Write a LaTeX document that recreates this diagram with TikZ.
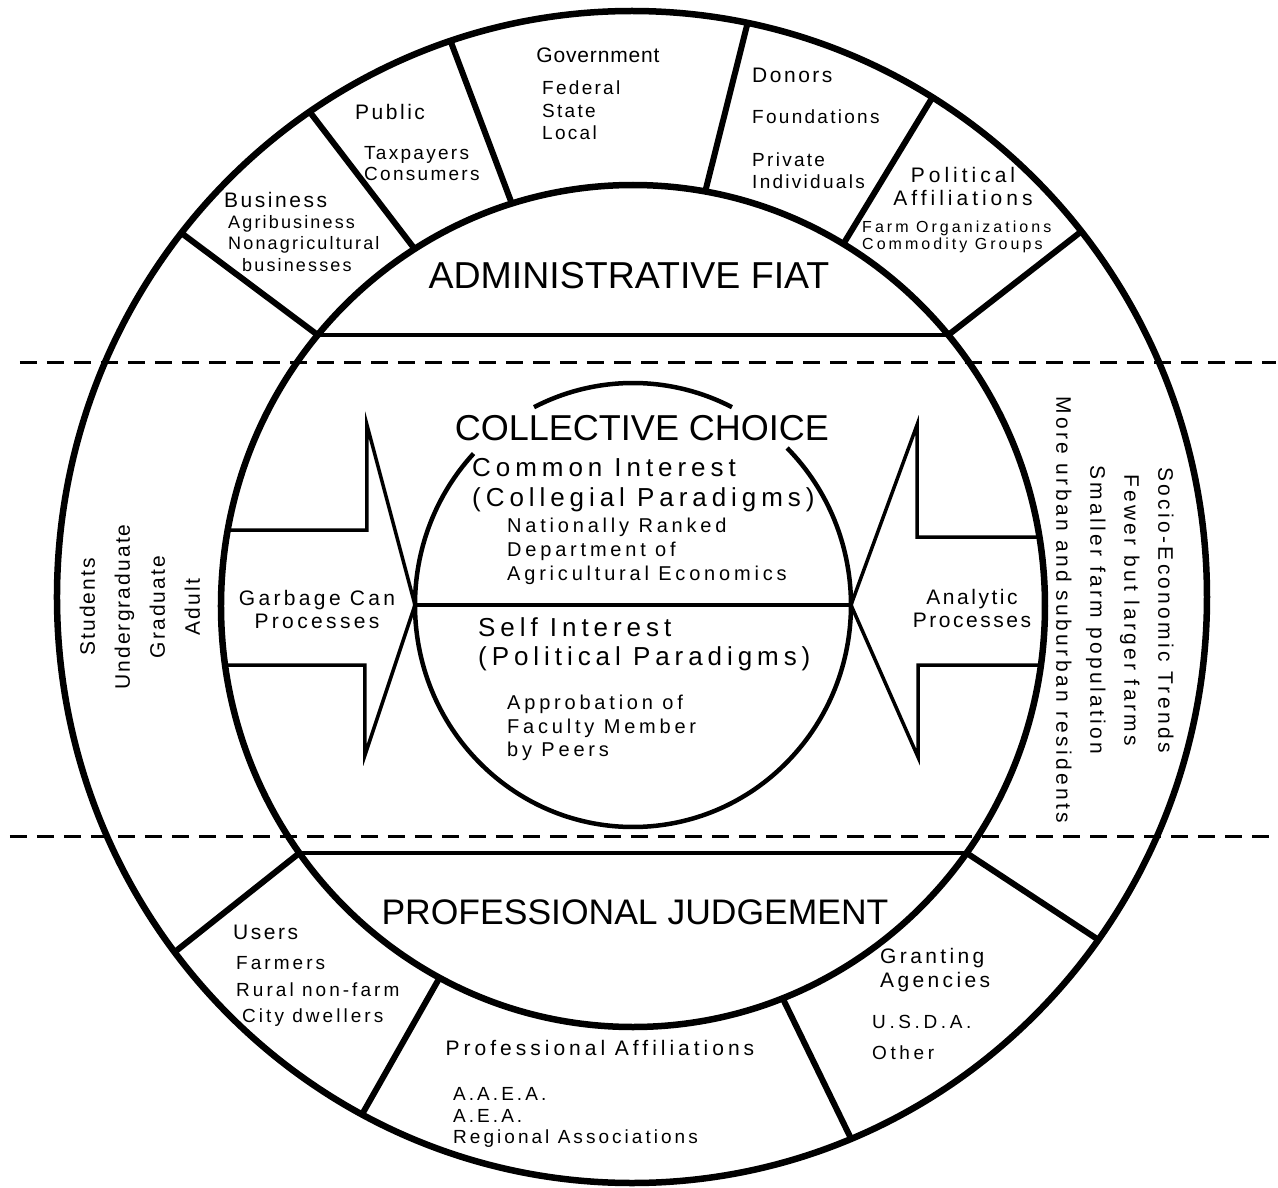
\documentclass[tikz,border=0pt]{standalone}
\usepackage{fontspec}
\usepackage{tikz}
\usetikzlibrary{calc}
\newfontfamily\plotfont[LetterSpace=12]{Liberation Sans}
\newfontfamily\midplotfont[LetterSpace=16]{Liberation Sans}
\newfontfamily\wideplotfont[LetterSpace=19]{Liberation Sans}
\newfontfamily\capfont{Liberation Sans}
\newcommand\lsp[1]{\addfontfeature{LetterSpace=#1}}
\tikzstyle{ring} = [line width=6.5pt]
\tikzstyle{spoke} = [line width=6pt]
\tikzstyle{chord} = [line width=4.5pt]
\tikzstyle{arrowline} = [line width=3.5pt, line join=miter]
\tikzstyle{divider} = [line width=3pt, dash pattern=on 17pt off 10pt]
\tikzstyle{title} = [font=\capfont\fontsize{36}{40}\selectfont, inner sep=0pt]
\tikzstyle{head} = [font=\plotfont\fontsize{21}{24}\selectfont, inner sep=0pt, align=left]
\tikzstyle{sub} = [font=\plotfont\fontsize{19}{22}\selectfont, inner sep=0pt, align=left]
\tikzstyle{mid} = [font=\wideplotfont\fontsize{26}{30}\selectfont, inner sep=0pt, align=left]

\begin{document}
\begin{tikzpicture}[x=1pt, y=1pt]
    \fill[white] (-633,-581) rectangle (645,606);
    \useasboundingbox (-633,-581) rectangle (645,606);

    % Centres and tips
    \coordinate (ic) at (0,0);
    \coordinate (oc) at (-1,9);
    \coordinate (cc) at (0,1);
    \coordinate (gtip) at (-218,1);
    \coordinate (atip) at (218,1);

    % Rings
    \draw[ring] (oc) ellipse [x radius=575, y radius=586];
    \draw[ring] (ic) ellipse [x radius=412, y radius=421];

    % Chords under the two titles
    \draw[chord] (139.93:412 and 421) -- (40.07:412 and 421);
    \draw[chord] (215.93:412 and 421) -- (324.07:412 and 421);

    % Spokes of the outer ring
    \draw[spoke] ($(oc)+(141.6:575 and 586)$) -- (139.93:412 and 421);
    \draw[spoke] ($(oc)+(124.1:575 and 586)$) -- (122:412 and 421);
    \draw[spoke] ($(oc)+(108.4:575 and 586)$) -- (107.1:412 and 421);
    \draw[spoke] ($(oc)+(78.4:575 and 586)$) -- (79.9:412 and 421);
    \draw[spoke] ($(oc)+(58.5:575 and 586)$) -- (59.3:412 and 421);
    \draw[spoke] ($(oc)+(38.6:575 and 586)$) -- (40.07:412 and 421);
    \draw[spoke] ($(oc)+(217.3:575 and 586)$) -- (215.93:412 and 421);
    \draw[spoke] ($(oc)+(242:575 and 586)$) -- (242:412 and 421);
    \draw[spoke] ($(oc)+(292.4:575 and 586)$) -- (291.3:412 and 421);
    \draw[spoke] ($(oc)+(324.2:575 and 586)$) -- (324.07:412 and 421);

    % Dashed dividers
    \draw[divider] (-613,244) -- (643,244);
    \draw[divider] (-623,-230) -- (643,-230);

    % Inner circle, broken round the heading
    \draw[chord] ($(cc)+(63:218 and 222)$) arc [start angle=63, end angle=117, x radius=218, y radius=222];
    \draw[chord] ($(cc)+(137:218 and 222)$) arc [start angle=137, end angle=405, x radius=218, y radius=222];
    \draw[arrowline] (gtip) -- (atip);

    % Arrows
    \draw[arrowline] (-405.2,76) -- (-266,76) -- (-266,181) -- (gtip) -- (-268,-149) -- (-268,-59) -- (-407.9,-59);
    \draw[arrowline] (406.4,69) -- (284,69) -- (284,181) -- (atip) -- (285,-151) -- (285,-59) -- (407.9,-59);

    % Nodes
    \node[head, font=\plotfont\lsp{4}\fontsize{21}{24}\selectfont] (govt) at (-35,551) {Government};
    \node[sub, anchor=west, font=\plotfont\fontsize{19}{22.5}\selectfont] (govtlist) at (-91,495.5) {Federal\\State\\Local};
    \node[head, anchor=west] (public) at (-278,494) {Public};
    \node[sub, anchor=west, font=\plotfont\fontsize{19}{21}\selectfont] (publiclist) at (-269,442.5) {Taxpayers\\Consumers};
    \node[head, anchor=west] (business) at (-409,406) {Business};
    \node[sub, anchor=west, font=\plotfont\fontsize{18}{21.5}\selectfont] (businesslist) at (-405,362.5) {Agribusiness\\Nonagricultural\\\hspace{14pt}businesses};
    \node[head, anchor=west] (donors) at (119,531) {Donors};
    \node[sub, anchor=west] (donorlist) at (119,456.5) {Foundations\\[21pt]Private\\Individuals};
    \node[head, align=center, font=\wideplotfont\fontsize{21}{23}\selectfont] (political) at (330,419.5) {Political\\Affiliations};
    \node[sub, anchor=west, font=\wideplotfont\fontsize{16}{17}\selectfont] (politicallist) at (229,369.5) {Farm Organizations\\Commodity Groups};
    \node[title, font=\capfont\fontsize{37.5}{40}\selectfont] (admin) at (-4,330) {ADMINISTRATIVE FIAT};

    \node[title] (collective) at (9,178) {COLLECTIVE CHOICE};
    \node[mid, anchor=west] (common) at (-161,121) {Common Interest\\(Collegial Paradigms)};
    \node[sub, anchor=west, font=\wideplotfont\fontsize{20}{24}\selectfont] (commonlist) at (-126,55) {Nationally Ranked\\Department of\\Agricultural Economics};
    \node[mid, anchor=west, font=\wideplotfont\fontsize{26}{29}\selectfont] (self) at (-155,-38.5) {Self Interest\\(Political Paradigms)};
    \node[sub, anchor=west, font=\wideplotfont\fontsize{20}{23.5}\selectfont] (selflist) at (-126,-122) {Approbation of\\Faculty Member\\by Peers};
    \node[head, align=center, font=\midplotfont\fontsize{21}{23}\selectfont] (garbage) at (-316,-3) {Garbage Can\\Processes};
    \node[head, align=center, font=\plotfont\fontsize{21}{23}\selectfont] (analytic) at (339,-2) {Analytic\\Processes};
    \node[head, align=center, rotate=90, font=\plotfont\lsp{10}\fontsize{21}{35}\selectfont] (students) at (-493,-1) {Students\\Undergraduate\\Graduate\\Adult};
    \node[head, align=center, rotate=-90, font=\midplotfont\fontsize{21}{34}\selectfont] (socio) at (482,-4) {Socio-Economic Trends\\Fewer but larger farms\\Smaller farm population\\More urban and suburban residents};

    \node[title, font=\capfont\fontsize{35.5}{40}\selectfont] (judgement) at (2,-306) {PROFESSIONAL JUDGEMENT};
    \node[head, anchor=west] (users) at (-400,-326) {Users};
    \node[sub, anchor=west, font=\midplotfont\fontsize{19}{26.5}\selectfont] (userlist) at (-397,-385.5) {Farmers\\Rural non-farm\\\hspace{6pt}City dwellers};
    \node[head, font=\wideplotfont\fontsize{21}{24}\selectfont] (profaff) at (-33,-442) {Professional Affiliations};
    \node[sub, anchor=west, font=\midplotfont\fontsize{19}{21.5}\selectfont] (proflist) at (-180,-511.5) {A.A.E.A.\\A.E.A.\\Regional Associations};
    \node[head, anchor=west, font=\midplotfont\fontsize{21}{24}\selectfont] (granting) at (247,-364) {Granting\\Agencies};
    \node[sub, anchor=west, font=\wideplotfont\fontsize{19}{31}\selectfont] (grantlist) at (239,-431.5) {U.S.D.A.\\Other};
\end{tikzpicture}
\end{document}
